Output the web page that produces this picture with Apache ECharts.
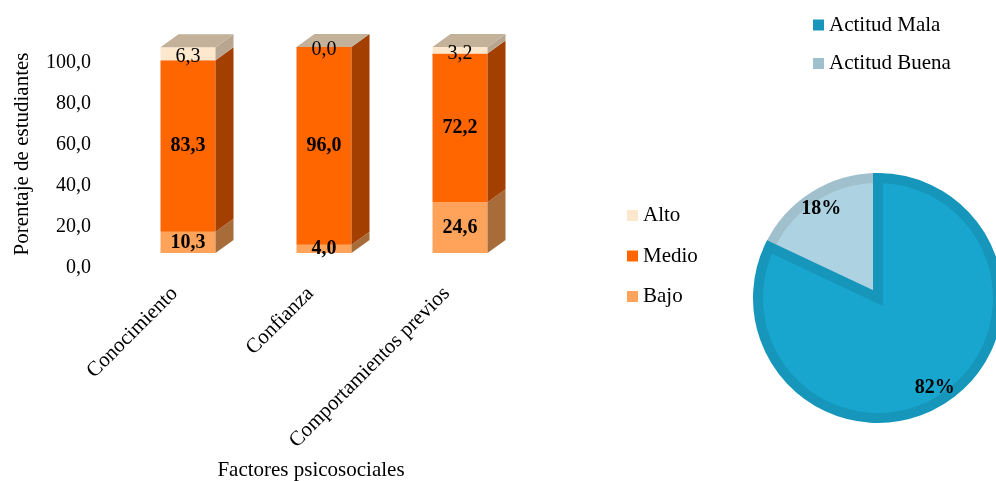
<!DOCTYPE html>
<html><head><meta charset="utf-8">
<script src="https://cdn.jsdelivr.net/npm/echarts@6/dist/echarts.min.js"></script>
<style>html,body{margin:0;padding:0;background:#fff}#c{width:996px;height:481px}</style>
</head><body><div id="c"></div>
<script>
// ---- data ----
const categories = ['Conocimiento', 'Confianza', 'Comportamientos previos'];
const bajo = [10.3, 4.0, 24.6];
const medio = [83.3, 96.0, 72.2];
const alto = [6.3, 0.0, 3.2];
const stackLegend = ['Alto', 'Medio', 'Bajo'];
const pieNames = ['Actitud Mala', 'Actitud Buena'];
const pieValues = [82, 18];

// ---- styling ----
const FONT = '"Liberation Serif","Times New Roman",serif';
const fmt = v => Number(v).toFixed(1).replace('.', ',');
const layers = [
  { name: 'Bajo', values: bajo, front: '#FFA35A', side: '#A86B3A', bold: true },
  { name: 'Medio', values: medio, front: '#FF6600', side: '#A33F00', bold: true },
  { name: 'Alto', values: alto, front: '#FDE8CE', side: '#B8A690', top: '#C4B199', bold: false }
];
const pieFill = { 'Actitud Mala': '#18A6CE', 'Actitud Buena': '#ADD3E2' };
const pieBorder = { 'Actitud Mala': '#1596BA', 'Actitud Buena': '#9FC0CC' };

const bases = categories.map(() => 0);
const customSeries = layers.map(L => {
  const data = categories.map((c, i) => {
    const b = bases[i];
    bases[i] += L.values[i];
    return [i, b, b + L.values[i], L.values[i]];
  });
  return {
    type: 'custom', name: L.name, xAxisIndex: 0, yAxisIndex: 0,
    itemStyle: { color: L.front },
    encode: { x: 0, y: [1, 2] },
    data: data,
    renderItem: function (params, api) {
      const cat = api.value(0);
      const p0 = api.coord([cat, api.value(1)]);
      const p1 = api.coord([cat, api.value(2)]);
      const bw = 55, dx = 18, dy = -13;
      const x0 = p0[0] - bw / 2, x1 = p0[0] + bw / 2;
      const yb = p0[1], yt = p1[1];
      const children = [
        { type: 'rect', shape: { x: x0, y: yt, width: bw, height: yb - yt }, style: { fill: L.front } },
        { type: 'polygon', shape: { points: [[x1, yt], [x1 + dx, yt + dy], [x1 + dx, yb + dy], [x1, yb]] }, style: { fill: L.side } }
      ];
      if (L.top) {
        children.push({ type: 'polygon', shape: { points: [[x0, yt], [x0 + dx, yt + dy], [x1 + dx, yt + dy], [x1, yt]] }, style: { fill: L.top } });
      }
      children.push({
        type: 'text', z2: 100, x: p0[0], y: (yb + yt) / 2 + (L.bold ? 0 : 3),
        style: { text: fmt(api.value(3)), fill: '#000', fontSize: 20, fontFamily: FONT,
                 fontWeight: L.bold ? 'bold' : 'normal', align: 'center', verticalAlign: 'middle' }
      });
      return { type: 'group', children: children };
    }
  };
});

const pieOrder = pieNames.map((n, i) => ({ name: n, value: pieValues[i] })).reverse();

const chart = echarts.init(document.getElementById('c'));
chart.setOption({
  animation: false,
  backgroundColor: '#fff',
  grid: [
    { left: 120, top: 47, width: 408, height: 206 },
    { left: 100, top: 62.5, width: 10, height: 205 }
  ],
  xAxis: [
    { type: 'category', gridIndex: 0, data: categories,
      axisLine: { show: false }, axisTick: { show: false }, splitLine: { show: false },
      axisLabel: { rotate: 45, margin: 24, padding: [0, 19, 0, 0], fontSize: 21, fontFamily: FONT, color: '#000', interval: 0 } },
    { type: 'value', gridIndex: 1, show: false }
  ],
  yAxis: [
    { type: 'value', gridIndex: 0, min: 0, max: 100, show: false },
    { type: 'value', gridIndex: 1, min: 0, max: 100, interval: 20,
      axisLine: { show: false }, axisTick: { show: false }, splitLine: { show: false },
      axisLabel: { margin: 9, fontSize: 20, fontFamily: FONT, color: '#000', formatter: v => fmt(v) } }
  ],
  legend: [
    { data: stackLegend, orient: 'vertical', left: 622, top: 200, itemWidth: 11, itemHeight: 11, itemGap: 19.5,
      icon: 'rect', itemStyle: { borderWidth: 0 },
      textStyle: { fontSize: 21, fontFamily: FONT, color: '#000' } },
    { data: pieNames.map(n => ({ name: n, itemStyle: { color: pieBorder[n], borderWidth: 0 } })),
      orient: 'vertical', left: 808, top: 9.5, itemWidth: 11, itemHeight: 11, itemGap: 17.5,
      icon: 'rect', itemStyle: { borderWidth: 0 },
      textStyle: { fontSize: 21, fontFamily: FONT, color: '#000' } }
  ],
  graphic: [
    { type: 'text', x: 22, y: 154, rotation: Math.PI / 2,
      style: { text: 'Porentaje de estudiantes', fontSize: 21, fontFamily: FONT, fill: '#000', align: 'center', verticalAlign: 'middle' } },
    { type: 'text', x: 311, y: 470,
      style: { text: 'Factores psicosociales', fontSize: 21, fontFamily: FONT, fill: '#000', align: 'center', verticalAlign: 'middle' } }
  ],
  series: customSeries.concat([
    { type: 'pie', center: [878, 298], radius: 120, startAngle: 90, clockwise: false, silent: true,
      data: pieOrder.map(d => ({ name: d.name, value: d.value,
        itemStyle: { color: pieFill[d.name], borderColor: pieBorder[d.name], borderWidth: 10, borderJoin: 'miter' } })),
      label: { show: false }, labelLine: { show: false } },
    { type: 'pie', center: [878, 298], radius: [86, 120], startAngle: 90, clockwise: false, silent: true,
      data: pieOrder.map(d => ({ name: d.name, value: d.value })),
      itemStyle: { color: 'rgba(0,0,0,0)', borderWidth: 0 },
      label: { show: true, position: 'inside', formatter: '{c}%', fontSize: 20, fontWeight: 'bold', fontFamily: FONT, color: '#000' },
      labelLine: { show: false } }
  ])
});
</script>
</body></html>
